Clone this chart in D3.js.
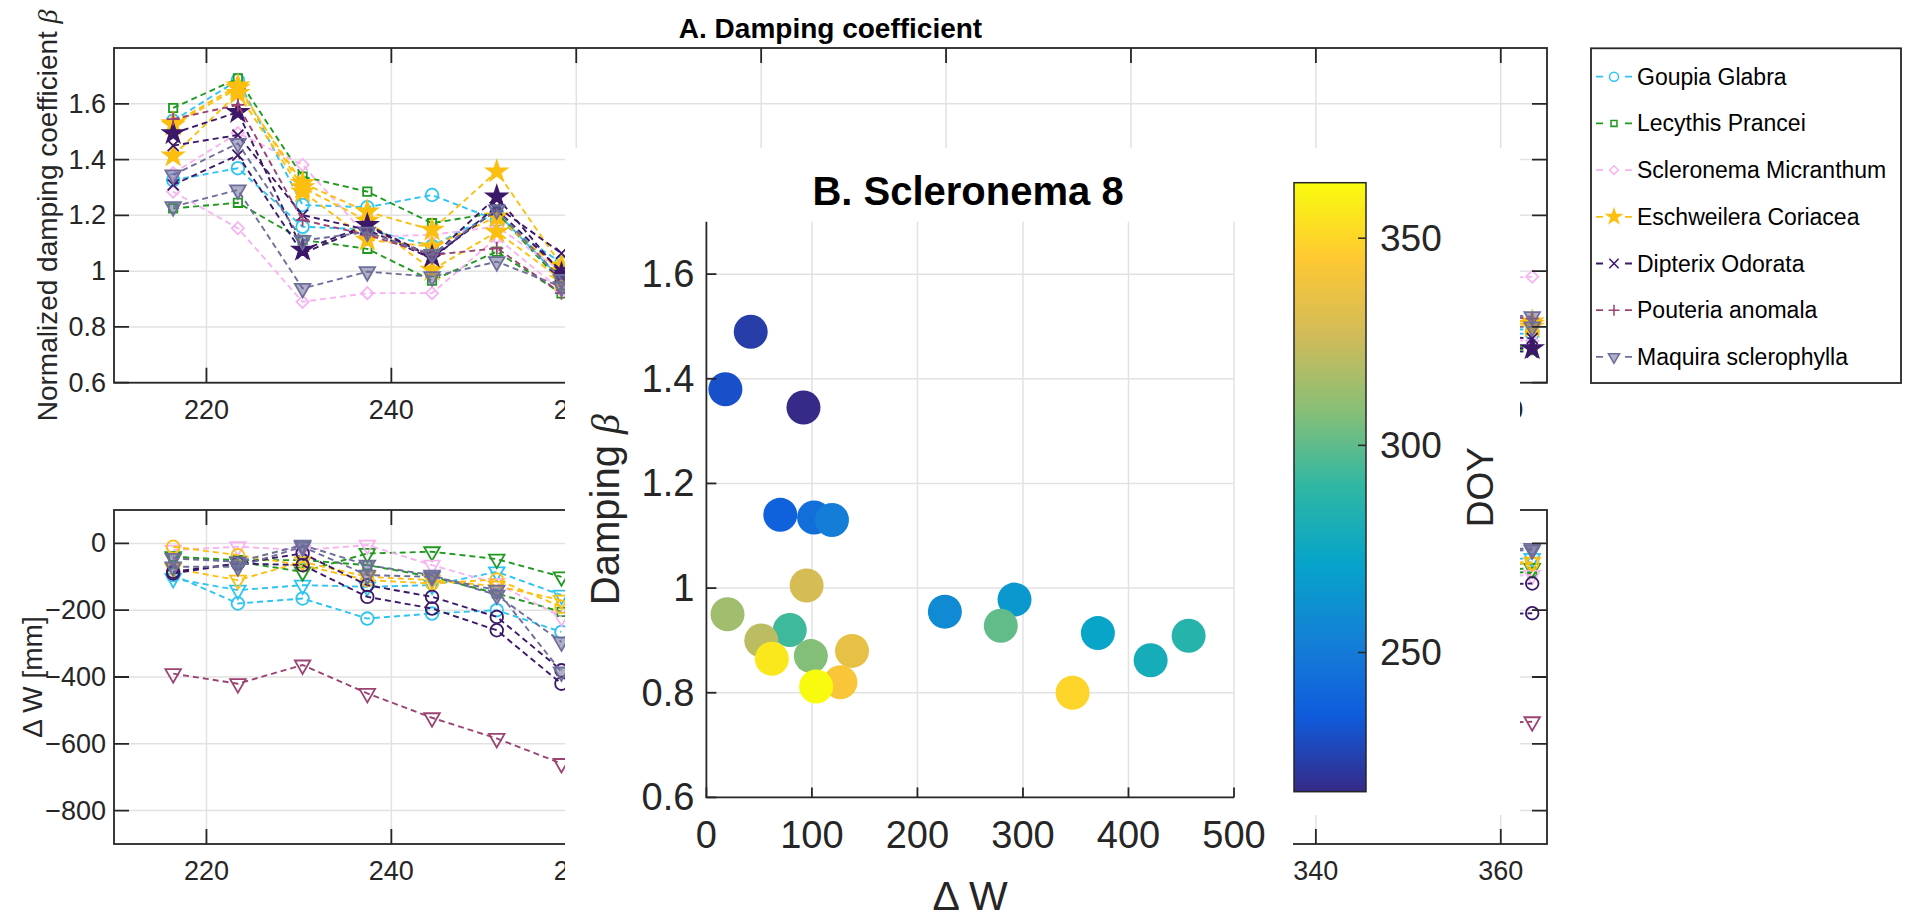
<!DOCTYPE html>
<html>
<head>
<meta charset="utf-8">
<script src="https://cdn.jsdelivr.net/npm/d3@7"></script>
<style>
  body { margin: 0; background: #fff; }
  svg { display: block; font-family: "Liberation Sans", Arial, sans-serif; }
</style>
</head>
<body>
<div id="container"></div>
<script>
const species = ['Goupia Glabra', 'Lecythis Prancei', 'Scleronema Micranthum', 'Eschweilera Coriacea',
  'Dipterix Odorata', 'Pouteria anomala', 'Maquira sclerophylla'];
const speciesColors = ['#2ec4f2', '#1f9a1f', '#f7b4f0', '#fcbf10', '#3b1868', '#9b4474', '#6e6e9a'];
const legendMarkers = ['circle', 'square', 'diamond', 'star', 'times', 'plus', 'triangle'];

// weeks that can be seen (the middle of panel A is hidden behind panel B)
const weekDoy = [216.4, 223.4, 230.4, 237.4, 244.4, 251.4, 258.4, 356.4, 363.4];

// normalized damping coefficient, one row per tree
const dampGoupia = [
  [1.539, 1.685, 1.237, 1.229, 1.273, 1.183, 1.03, 0.80, 0.789],
  [1.326, 1.369, 1.159, 1.15, 1.09, 1.21, 0.97, 0.78, 0.775]
];
const dampLecythis = [
  [1.585, 1.691, 1.339, 1.285, 1.172, 1.21, 0.96, 0.73, 0.717],
  [1.225, 1.245, 1.112, 1.080, 0.966, 1.070, 0.92, 0.74, 0.73]
];
const dampScleronema = [
  [1.351, 1.495, 1.381, 1.124, 1.130, 1.16, 1.0, 0.97, 0.98],
  [1.285, 1.154, 0.890, 0.921, 0.921, 1.12, 0.93, 0.76, 0.75]
];
const dampEschweilera = [
  [1.524, 1.656, 1.315, 1.213, 1.148, 1.357, 1.02, 0.83, 0.819],
  [1.414, 1.638, 1.285, 1.112, 1.088, 1.195, 1.0, 0.81, 0.80],
  [1.53, 1.665, 1.30, 1.18, 1.004, 1.141, 0.97, 0.82, 0.81]
];
const dampDipterix = [
  [1.450, 1.488, 1.201, 1.148, 1.045, 1.231, 1.064, 0.77, 0.759],
  [1.309, 1.416, 1.064, 1.16, 1.05, 1.22, 1.0, 0.72, 0.71],
  [1.494, 1.570, 1.076, 1.165, 1.052, 1.267, 0.99, 0.73, 0.723]
];
const dampPouteria = [
  [1.545, 1.596, 1.183, 1.13, 1.058, 1.082, 0.921, 0.84, 0.83]
];
const dampMaquira = [
  [1.231, 1.291, 0.938, 0.998, 0.980, 1.034, 0.944, 0.85, 0.837],
  [1.345, 1.458, 1.11, 1.14, 1.06, 1.22, 0.97, 0.80, 0.80]
];
const dampMarkers = [['circle', 'circle'], ['square', 'square'], ['diamond', 'diamond'],
  ['star', 'star', 'star'], ['times', 'times', 'star'], ['plus'], ['triangle', 'triangle']];

// water deficit Delta W [mm], one row per tree
const dwGoupia = [
  [-95, -180, -165, -225, -210, -200, -265, -70, -60],
  [-105, -140, -125, -130, -125, -85, -155, -50, -45]
];
const dwLecythis = [
  [-40, -55, -85, -30, -25, -47, -100, -80, -75],
  [-40, -50, -50, -65, -100, -150, -205, -90, -86]
];
const dwScleronema = [
  [-20, -10, -20, -5, -65, -120, -220, -100, -95]
];
const dwEschweilera = [
  [-10, -35, -65, -110, -120, -108, -190, -65, -60],
  [-75, -110, -55, -100, -110, -128, -170, -60, -56]
];
const dwDipterix = [
  [-90, -60, -30, -125, -160, -220, -380, -125, -120],
  [-85, -60, -65, -160, -195, -260, -420, -215, -209]
];
const dwPouteria = [
  [-390, -420, -364, -449, -522, -584, -659, -540, -534]
];
const dwMaquira = [
  [-45, -55, -5, -65, -95, -155, -295, -20, -15],
  [-70, -70, -10, -95, -100, -140, -385, -25, -20]
];
const dwMarkers = [['circle', 'triangle'], ['triangle', 'square'], ['triangle'],
  ['circle', 'triangle'], ['circle', 'circle'], ['triangle'], ['triangle', 'triangle']];

const doyTicks = [220, 240, 260, 280, 300, 320, 340, 360];
const dampTicks = [0.6, 0.8, 1, 1.2, 1.4, 1.6];
const dwTicks = [-800, -600, -400, -200, 0];

// panel B: Scleronema 8, one point per week
const scatterDW = [92, 42, 18, 70, 102, 119, 226, 292, 371, 421, 457, 79, 279, 99, 20, 52, 95, 138, 127, 347, 62, 104];
const scatterBeta = [1.345, 1.49, 1.38, 1.14, 1.135, 1.13, 0.955, 0.978, 0.914, 0.862, 0.909, 0.92, 0.928,
  0.87, 0.95, 0.9, 1.005, 0.88, 0.82, 0.80, 0.865, 0.812];
const scatterDoy = [216.4, 223.4, 230.4, 237.4, 244.4, 251.4, 258.4, 265.4, 272.4, 279.4, 286.4, 293.4,
  300.4, 307.4, 314.4, 321.4, 328.4, 335.4, 342.4, 349.4, 356.4, 363.4];
const bXTicks = [0, 100, 200, 300, 400, 500];
const bYTicks = [0.6, 0.8, 1, 1.2, 1.4, 1.6];
const cbTicks = [250, 300, 350];
const parula = ['#352a87', '#0f5cdd', '#1481d6', '#06a4ca', '#2eb7a4', '#87bf77', '#d1bb59', '#fec832', '#f9fb0e'];

const width = 1905;
const height = 917;
const axisColor = '#262626';
const gridColor = '#e2e2e2';
const fmt = d3.format('~g');

const svg = d3.select('#container')
  .append('svg')
  .attr('width', width)
  .attr('height', height)
  .attr('viewBox', [0, 0, width, height]);

svg.append('rect').attr('width', width).attr('height', height).attr('fill', '#fff');

const xA = d3.scaleLinear([210, 365], [114, 1547]);
const yTop = d3.scaleLinear([0.6, 1.8], [382.7, 48]);
const yBot = d3.scaleLinear([-900, 100], [844, 510]);

function markerD(name, size) {
  if (name === 'plus') {
    const r = 6.5;
    return `M${-r},0H${r}M0,${-r}V${r}`;
  }
  if (name === 'times') {
    const r = 5.5;
    return `M${-r},${-r}L${r},${r}M${-r},${r}L${r},${-r}`;
  }
  const type = { circle: d3.symbolCircle, square: d3.symbolSquare, diamond: d3.symbolSquare,
    star: d3.symbolStar, triangle: d3.symbolTriangle }[name];
  return d3.symbol(type, size)();
}
const markerSize = { circle: 125, square: 70, diamond: 75, star: 125, triangle: 105, plus: 0, times: 0 };
const markerRot = { diamond: 45, triangle: 180 };

function markerStyle(sel, marker, color, s) {
  const filledTri = marker === 'triangle' && s === 6;
  sel.attr('stroke', color)
    .attr('stroke-width', 1.8)
    .attr('fill', marker === 'star' || filledTri ? color : 'none')
    .attr('fill-opacity', filledTri ? 0.55 : 1);
}

function drawPanelA(y, yTicks, rows, markerSets, yLabel, yLabelX) {
  const g = svg.append('g');
  const [x0, x1] = xA.range();
  const [yb, yt] = y.range();

  g.append('g').selectAll('line').data(doyTicks).join('line')
    .attr('x1', d => xA(d)).attr('x2', d => xA(d)).attr('y1', yt).attr('y2', yb)
    .attr('stroke', gridColor).attr('stroke-width', 1.5);
  g.append('g').selectAll('line').data(yTicks).join('line')
    .attr('x1', x0).attr('x2', x1).attr('y1', d => y(d)).attr('y2', d => y(d))
    .attr('stroke', gridColor).attr('stroke-width', 1.5);

  const series = rows.flatMap((tree, s) => tree.map((values, i) => ({ s, marker: markerSets[s][i], values })));
  const line = d3.line().x(d => xA(d.doy)).y(d => y(d.v));

  const sg = g.append('g').selectAll('g').data(series).join('g');
  sg.append('path')
    .attr('d', d => {
      const pts = weekDoy.map((doy, i) => ({ doy, v: d.values[i] }));
      const segs = [[]];
      pts.forEach((p, i) => {
        if (i > 0 && p.doy - pts[i - 1].doy > 8) segs.push([]);
        segs[segs.length - 1].push(p);
      });
      return segs.map(line).join('');
    })
    .attr('fill', 'none')
    .attr('stroke', d => speciesColors[d.s])
    .attr('stroke-width', 1.9)
    .attr('stroke-dasharray', '6,4');
  sg.each(function (d) {
    d3.select(this).selectAll('path.m')
      .data(weekDoy.map((doy, i) => ({ doy, v: d.values[i] })))
      .join('path')
      .attr('class', 'm')
      .attr('d', markerD(d.marker, markerSize[d.marker]))
      .attr('transform', p => `translate(${xA(p.doy)},${y(p.v)}) rotate(${markerRot[d.marker] || 0})`)
      .call(markerStyle, d.marker, speciesColors[d.s], d.s);
  });

  g.append('rect')
    .attr('x', x0).attr('y', yt).attr('width', x1 - x0).attr('height', yb - yt)
    .attr('fill', 'none').attr('stroke', axisColor).attr('stroke-width', 1.8);

  const tl = 15;
  const ticks = g.append('g').attr('stroke', axisColor).attr('stroke-width', 1.8);
  ticks.selectAll('.tb').data(doyTicks).join('path').attr('class', 'tb')
    .attr('d', d => `M${xA(d)},${yb}V${yb - tl}M${xA(d)},${yt}V${yt + tl}`);
  ticks.selectAll('.ty').data(yTicks).join('path').attr('class', 'ty')
    .attr('d', d => `M${x0},${y(d)}H${x0 + tl}M${x1},${y(d)}H${x1 - tl}`);

  g.append('g').selectAll('text').data(doyTicks).join('text')
    .attr('x', d => xA(d)).attr('y', yb + 27)
    .attr('text-anchor', 'middle').attr('dominant-baseline', 'central')
    .style('font-size', '27px').style('fill', axisColor)
    .text(d => d);
  g.append('g').selectAll('text').data(yTicks).join('text')
    .attr('x', x0 - 8).attr('y', d => y(d))
    .attr('text-anchor', 'end').attr('dominant-baseline', 'central')
    .style('font-size', '27px').style('fill', axisColor)
    .text(d => fmt(d));

  const lab = g.append('text')
    .attr('transform', `translate(${yLabelX},${(yb + yt) / 2}) rotate(-90)`)
    .attr('text-anchor', 'middle').attr('dominant-baseline', 'central')
    .style('font-size', '28px').style('fill', axisColor);
  lab.append('tspan').text(yLabel[0]);
  if (yLabel[1]) lab.append('tspan').style('font-family', '"Liberation Serif", serif')
    .style('font-style', 'italic').text(yLabel[1]);
}

svg.append('text')
  .attr('x', (xA.range()[0] + xA.range()[1]) / 2).attr('y', 38)
  .attr('text-anchor', 'middle')
  .style('font-size', '28px').style('font-weight', 'bold').style('fill', '#000')
  .text('A. Damping coefficient');

drawPanelA(yTop, dampTicks,
  [dampGoupia, dampLecythis, dampScleronema, dampEschweilera, dampDipterix, dampPouteria, dampMaquira],
  dampMarkers, ['Normalized damping coefficient ', 'β'], 47);
drawPanelA(yBot, dwTicks,
  [dwGoupia, dwLecythis, dwScleronema, dwEschweilera, dwDipterix, dwPouteria, dwMaquira],
  dwMarkers, ['Δ W [mm]'], 32);

// legend
const legend = svg.append('g');
legend.append('rect')
  .attr('x', 1591).attr('y', 48.3).attr('width', 310).attr('height', 334.7)
  .attr('fill', '#fff').attr('stroke', axisColor).attr('stroke-width', 1.8);
const items = legend.selectAll('g').data(species).join('g')
  .attr('transform', (d, i) => `translate(1596,${76.7 + i * 46.7})`);
items.append('path').attr('d', 'M0,0H36')
  .attr('stroke', (d, i) => speciesColors[i]).attr('stroke-width', 1.8).attr('stroke-dasharray', '7,22');
items.append('path')
  .attr('d', (d, i) => markerD(legendMarkers[i], markerSize[legendMarkers[i]] * 0.7))
  .attr('transform', (d, i) => `translate(18,0) rotate(${markerRot[legendMarkers[i]] || 0}) scale(0.85)`)
  .each(function (d, i) { d3.select(this).call(markerStyle, legendMarkers[i], speciesColors[i], i); });
items.append('text')
  .attr('x', 41).attr('y', 0).attr('dominant-baseline', 'central')
  .style('font-size', '23px').style('fill', '#000')
  .text(d => d);

// panel B sits on top of panel A and hides its middle
svg.append('rect').attr('x', 565).attr('y', 148).attr('width', 1520 - 565).attr('height', 815 - 148).attr('fill', '#fff');
svg.append('rect').attr('x', 565).attr('y', 148).attr('width', 1293 - 565).attr('height', height - 148).attr('fill', '#fff');

const xB = d3.scaleLinear([0, 500], [706.4, 1234]);
const yB = d3.scaleLinear([0.6, 1.7], [797.4, 221.8]);
const gB = svg.append('g');

gB.append('g').selectAll('line').data(bXTicks.slice(1)).join('line')
  .attr('x1', d => xB(d)).attr('x2', d => xB(d)).attr('y1', yB(1.7)).attr('y2', yB(0.6))
  .attr('stroke', gridColor).attr('stroke-width', 1.5);
gB.append('g').selectAll('line').data(bYTicks.slice(1)).join('line')
  .attr('x1', xB(0)).attr('x2', xB(500)).attr('y1', d => yB(d)).attr('y2', d => yB(d))
  .attr('stroke', gridColor).attr('stroke-width', 1.5);

const cExt = d3.extent(scatterDoy);
const stopDoy = parula.map((c, i) => cExt[0] + i / (parula.length - 1) * (cExt[1] - cExt[0]));
const color = d3.scaleLinear(stopDoy, parula).interpolate(d3.interpolateRgb);

gB.append('g').selectAll('circle').data(scatterDW).join('circle')
  .attr('cx', d => xB(d))
  .attr('cy', (d, i) => yB(scatterBeta[i]))
  .attr('r', 17)
  .attr('fill', (d, i) => color(scatterDoy[i]));

gB.append('path')
  .attr('d', `M${xB(0)},${yB(1.7)}V${yB(0.6)}H${xB(500)}`)
  .attr('fill', 'none').attr('stroke', axisColor).attr('stroke-width', 1.8);
gB.append('g').attr('stroke', axisColor).attr('stroke-width', 1.8)
  .selectAll('path').data(bXTicks).join('path')
  .attr('d', d => `M${xB(d)},${yB(0.6)}V${yB(0.6) - 10}`);
gB.append('g').attr('stroke', axisColor).attr('stroke-width', 1.8)
  .selectAll('path').data(bYTicks).join('path')
  .attr('d', d => `M${xB(0)},${yB(d)}H${xB(0) + 10}`);

gB.append('g').selectAll('text').data(bXTicks).join('text')
  .attr('x', d => xB(d)).attr('y', yB(0.6) + 38)
  .attr('text-anchor', 'middle').attr('dominant-baseline', 'central')
  .style('font-size', '38px').style('fill', axisColor)
  .text(d => d);
gB.append('g').selectAll('text').data(bYTicks).join('text')
  .attr('x', xB(0) - 12).attr('y', d => yB(d))
  .attr('text-anchor', 'end').attr('dominant-baseline', 'central')
  .style('font-size', '38px').style('fill', axisColor)
  .text(d => fmt(d));

gB.append('text')
  .attr('x', 968).attr('y', 205)
  .attr('text-anchor', 'middle')
  .style('font-size', '40px').style('font-weight', 'bold').style('fill', '#000')
  .text('B. Scleronema 8');
const bYLab = gB.append('text')
  .attr('transform', `translate(605,${(yB(0.6) + yB(1.7)) / 2}) rotate(-90)`)
  .attr('text-anchor', 'middle').attr('dominant-baseline', 'central')
  .style('font-size', '40px').style('fill', axisColor);
bYLab.append('tspan').text('Damping ');
bYLab.append('tspan').style('font-family', '"Liberation Serif", serif').style('font-style', 'italic').text('β');
gB.append('text')
  .attr('x', (xB(0) + xB(500)) / 2).attr('y', 910)
  .attr('text-anchor', 'middle')
  .style('font-size', '41px').style('fill', axisColor)
  .text('Δ W');

// colorbar
const yC = d3.scaleLinear(cExt, [791.7, 182.7]);
const grad = svg.append('defs').append('linearGradient')
  .attr('id', 'parula').attr('x1', 0).attr('y1', 1).attr('x2', 0).attr('y2', 0);
grad.selectAll('stop').data(parula).join('stop')
  .attr('offset', (d, i) => i / (parula.length - 1))
  .attr('stop-color', d => d);
const cb = svg.append('g');
cb.append('rect')
  .attr('x', 1294).attr('y', yC(cExt[1])).attr('width', 72).attr('height', yC(cExt[0]) - yC(cExt[1]))
  .attr('fill', 'url(#parula)').attr('stroke', axisColor).attr('stroke-width', 1.5);
cb.append('g').attr('stroke', axisColor).attr('stroke-width', 1.5)
  .selectAll('path').data(cbTicks).join('path')
  .attr('d', d => `M1366,${yC(d)}H1358`);
cb.append('g').selectAll('text').data(cbTicks).join('text')
  .attr('x', 1380).attr('y', d => yC(d))
  .attr('dominant-baseline', 'central')
  .style('font-size', '37px').style('fill', axisColor)
  .text(d => d);
cb.append('text')
  .attr('transform', `translate(1480,${(yC(cExt[0]) + yC(cExt[1])) / 2}) rotate(-90)`)
  .attr('text-anchor', 'middle').attr('dominant-baseline', 'central')
  .style('font-size', '37px').style('fill', axisColor)
  .text('DOY');
</script>
</body>
</html>
